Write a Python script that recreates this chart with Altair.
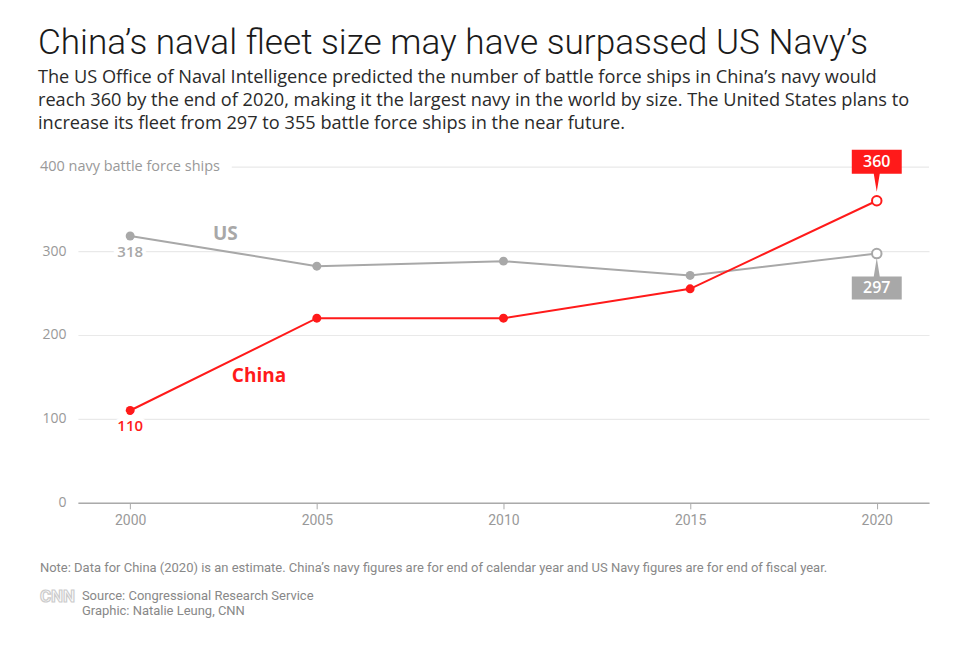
import altair as alt
import pandas as pd

years = [2000, 2005, 2010, 2015, 2020]
china = [110, 220, 220, 255, 360]
us = [318, 282, 288, 271, 297]

ann_text = ["US", "China"]
ann_country = ["US", "China"]
ann_year = [2002.55, 2003.45]
ann_ships = [320, 151]

RED = "#ff1a1a"
GRAY = "#a8a8a8"
FONT = "Roboto"
WFONT = "Open Sans"

rows = []
for y, v in zip(years, us):
    rows.append({"country": "US", "year": y, "ships": v})
for y, v in zip(years, china):
    rows.append({"country": "China", "year": y, "ships": v})
df = pd.DataFrame(rows)
ann = pd.DataFrame({"label": ann_text, "country": ann_country, "year": ann_year, "ships": ann_ships})

xscale = alt.Scale(domain=[1998.6, 2021.4], nice=False, zero=False)
yscale = alt.Scale(domain=[0, 400], nice=False)
cscale = alt.Scale(domain=["US", "China"], range=[GRAY, RED])

xax = alt.Axis(values=years, format="d", labelFontSize=14, labelColor="#999999", labelFont=FONT,
               tickColor="#aaaaaa", tickSize=6, domainColor="#aaaaaa", domainWidth=1.5,
               grid=False, title=None, labelPadding=5)
yax = alt.Axis(values=[0, 100, 200, 300], grid=True, gridColor="#e9e9e9", gridWidth=1.2, ticks=False,
               domain=False, labelPadding=12, labelColor="#999999", labelFontSize=14,
               labelFont=WFONT, title=None)

base = alt.Chart(df).encode(
    x=alt.X("year:Q", scale=xscale, axis=xax),
    y=alt.Y("ships:Q", scale=yscale, axis=yax),
    color=alt.Color("country:N", scale=cscale, legend=None),
)

grid400 = alt.Chart(pd.DataFrame({"v": [400]})).mark_rule(color="#e9e9e9", strokeWidth=1.2).encode(
    y=alt.Y("v:Q", scale=yscale), x=alt.value(154), x2=alt.value(852))
lbl400 = alt.Chart(pd.DataFrame({"v": [400], "t": ["400 navy battle force ships"]})).mark_text(
    align="left", baseline="middle", fontSize=14.5, color="#999999", font=WFONT).encode(
    y=alt.Y("v:Q", scale=yscale), x=alt.value(-38), text="t:N")

us_line = base.transform_filter("datum.country == 'US'").mark_line(strokeWidth=2)
cn_line = base.transform_filter("datum.country == 'China'").mark_line(strokeWidth=2)
us_pts = base.transform_filter("datum.country == 'US' && datum.year < 2020").mark_circle(size=80, opacity=1)
cn_pts = base.transform_filter("datum.country == 'China' && datum.year < 2020").mark_circle(size=80, opacity=1)
open_pts = base.transform_filter("datum.year == 2020").mark_point(size=90, fill="white", filled=False,
                                                                    strokeWidth=2, opacity=1)

up_path = "M0,-0.36 L0.12,-1.08 L1,-1.08 L1,-2.04 L-1,-2.04 L-1,-1.08 L-0.12,-1.08 Z"
down_path = "M0,0.17 L0.12,0.92 L1,0.92 L1,1.84 L-1,1.84 L-1,0.92 L-0.12,0.92 Z"

cn_badge = base.transform_filter("datum.country == 'China' && datum.year == 2020").mark_point(
    shape=up_path, size=2500, filled=True, opacity=1, strokeWidth=0)
us_badge = base.transform_filter("datum.country == 'US' && datum.year == 2020").mark_point(
    shape=down_path, size=2500, filled=True, opacity=1, strokeWidth=0)
cn_badge_t = base.transform_filter("datum.country == 'China' && datum.year == 2020").mark_text(
    dy=-39, fontSize=16, fontWeight=600, font=WFONT).encode(text="ships:Q", color=alt.value("white"))
us_badge_t = base.transform_filter("datum.country == 'US' && datum.year == 2020").mark_text(
    dy=34, fontSize=16, fontWeight=600, font=WFONT).encode(text="ships:Q", color=alt.value("white"))

first_halo = base.transform_filter("datum.year == 2000").mark_text(
    dy=16, fontSize=15, fontWeight=600, font=WFONT, stroke="white", strokeWidth=8).encode(
    text="ships:Q", color=alt.value("white"))
first_t = base.transform_filter("datum.year == 2000").mark_text(
    dy=16, fontSize=15, fontWeight=600, font=WFONT).encode(text="ships:Q")

ann_t = alt.Chart(ann).mark_text(fontSize=19, fontWeight="bold", font=WFONT).encode(
    x=alt.X("year:Q", scale=xscale), y=alt.Y("ships:Q", scale=yscale),
    color=alt.Color("country:N", scale=cscale, legend=None), text="label:N")

note = alt.Chart(pd.DataFrame({"t": ["Note: Data for China (2020) is an estimate. China’s navy figures are for end of calendar year and US Navy figures are for end of fiscal year."]})).mark_text(
    align="left", baseline="middle", fontSize=13, color="#888888", font=FONT).encode(
    x=alt.value(-38), y=alt.value(401), text="t:N")
src = alt.Chart(pd.DataFrame({"t": ["Source: Congressional Research Service", "Graphic: Natalie Leung, CNN"], "yy": [429, 444]})).mark_text(
    align="left", baseline="middle", fontSize=13, color="#888888", font=FONT).encode(
    x=alt.value(4), y=alt.Y("yy:Q", scale=None), text="t:N")
logo = alt.Chart(pd.DataFrame({"t": ["CNN"]})).mark_text(
    align="left", baseline="middle", fontSize=17, fontWeight="bold", font=FONT,
    stroke="#cccccc", strokeWidth=1.2).encode(x=alt.value(-38), y=alt.value(430), text="t:N",
                                               color=alt.value("white"))

chart = alt.layer(
    grid400, lbl400, us_line, cn_line, us_pts, cn_pts, open_pts,
    cn_badge, us_badge, cn_badge_t, us_badge_t, first_halo, first_t, ann_t, note, src, logo
).properties(
    width=852, height=336,
    autosize=alt.AutoSizeParams(type="none"),
    padding={"left": 70, "top": 159, "right": 20, "bottom": 140},
    background="white",
    title=alt.TitleParams(
        text="China’s naval fleet size may have surpassed US Navy’s",
        subtitle=[
            "The US Office of Naval Intelligence predicted the number of battle force ships in China’s navy would",
            "reach 360 by the end of 2020, making it the largest navy in the world by size. The United States plans to",
            "increase its fleet from 297 to 355 battle force ships in the near future.",
        ],
        anchor="start", frame="group", dx=-40, offset=18,
        font=FONT, fontSize=35.2, fontWeight=300, color="#1a1a1a",
        subtitleFont=WFONT, subtitleFontSize=18.2, subtitleColor="#2a2a2a",
        subtitleLineHeight=22.8, subtitlePadding=8,
    ),
).configure_view(stroke=None)

chart.save("out.html", embed_options={"renderer": "svg", "actions": False})
